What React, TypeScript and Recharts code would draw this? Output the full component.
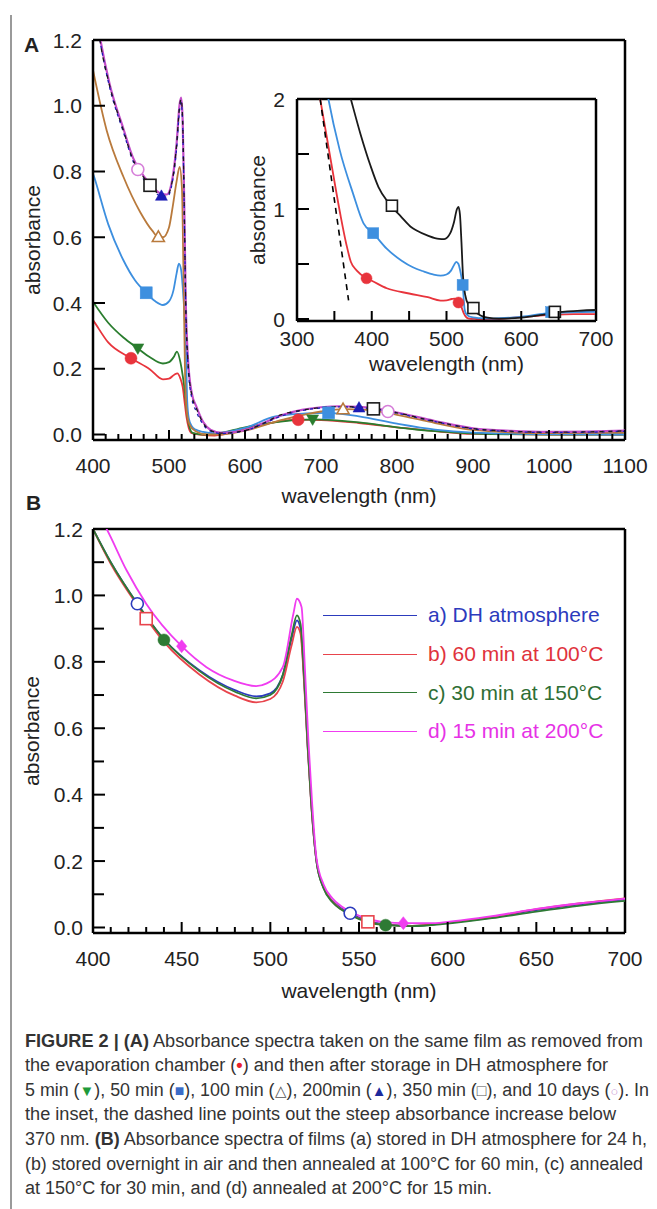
import React from 'react';
import { ComposedChart, Line, Scatter, XAxis, YAxis, ReferenceLine, Legend } from 'recharts';

const FONT = '"Liberation Sans", Arial, Helvetica, sans-serif';
const INK = '#222';

// ---- panel A (also feeds the inset for the first, 50 min and 350 min spectra)
const removedNm = [327, 331, 345, 358, 366, 372, 380, 393, 400, 420, 450, 475, 492, 500, 507, 511, 515, 518, 521, 523, 526, 530, 540, 560, 600, 640, 670, 700, 750, 800, 850, 900, 1000, 1100];
const removedAbs = [2.15, 2.0, 1.45, 0.95, 0.68, 0.52, 0.44, 0.37, 0.348, 0.28, 0.232, 0.198, 0.168, 0.17, 0.182, 0.186, 0.17, 0.145, 0.09, 0.054, 0.02, 0.004, 0.0, -0.003, 0.018, 0.038, 0.045, 0.044, 0.035, 0.022, 0.01, 0.002, 0, 0];

const min5Nm = [400, 420, 440, 459, 475, 492, 500, 506, 510.5, 515, 518, 520.6, 523, 525, 531, 545, 560, 600, 650, 690, 750, 800, 850, 900, 1000, 1100];
const min5Abs = [0.404, 0.34, 0.295, 0.262, 0.235, 0.216, 0.22, 0.235, 0.252, 0.22, 0.18, 0.135, 0.08, 0.044, 0.005, 0.0, 0.002, 0.022, 0.04, 0.046, 0.037, 0.022, 0.01, 0.003, 0, 0];

const min50Nm = [338, 342, 357, 375, 389, 402, 420, 440, 455, 470, 482, 492, 500, 506, 510, 513, 516, 518, 520, 522, 524, 526, 530, 535, 545, 560, 600, 640, 680, 710, 750, 800, 850, 900, 1000, 1100];
const min50Abs = [2.15, 2.0, 1.54, 1.14, 0.87, 0.78, 0.64, 0.53, 0.47, 0.431, 0.405, 0.394, 0.405, 0.44, 0.49, 0.52, 0.5, 0.45, 0.38, 0.28, 0.1, 0.05, 0.025, 0.015, 0.008, 0.004, 0.02, 0.055, 0.064, 0.066, 0.055, 0.033, 0.015, 0.006, 0.001, 0];

const min100Nm = [400, 418, 440, 462, 478, 486, 492, 500, 505, 510, 514, 517, 519, 521, 523, 527, 535, 550, 570, 600, 650, 700, 730, 760, 800, 850, 900, 1000, 1100];
const min100Abs = [1.108, 0.925, 0.784, 0.677, 0.62, 0.601, 0.6, 0.63, 0.695, 0.77, 0.814, 0.75, 0.5, 0.2, 0.08, 0.03, 0.01, 0.0, 0.0, 0.012, 0.045, 0.07, 0.077, 0.075, 0.06, 0.035, 0.014, 0.004, 0.006];

const min200Nm = [400, 409, 422, 440, 453, 460, 475, 490, 497, 505, 510, 514, 516, 518, 520, 522, 525, 530, 536, 545, 555, 570, 600, 625, 650, 675, 700, 725, 750, 775, 800, 850, 900, 950, 1000, 1050, 1100];
const min200Abs = [1.33, 1.2, 1.055, 0.92, 0.83, 0.8, 0.752, 0.724, 0.722, 0.775, 0.87, 0.99, 1.01, 0.94, 0.69, 0.39, 0.21, 0.11, 0.07, 0.03, 0.01, 0.003, 0.011, 0.034, 0.058, 0.073, 0.081, 0.084, 0.082, 0.076, 0.065, 0.039, 0.017, 0.009, 0.006, 0.007, 0.01];

const min350Nm = [368, 372, 385, 398, 409, 422, 440, 453, 460, 475, 490, 497, 505, 510, 514, 516, 518, 520, 522, 525, 530, 536, 545, 555, 570, 600, 625, 645, 675, 700, 725, 750, 775, 800, 850, 900, 950, 1000, 1050, 1100];
const min350Abs = [2.1, 2.0, 1.68, 1.4, 1.2, 1.06, 0.925, 0.834, 0.805, 0.758, 0.728, 0.726, 0.78, 0.88, 1.0, 1.02, 0.95, 0.7, 0.4, 0.22, 0.12, 0.08, 0.035, 0.012, 0.004, 0.012, 0.035, 0.058, 0.074, 0.082, 0.085, 0.083, 0.077, 0.066, 0.04, 0.018, 0.01, 0.007, 0.008, 0.011];

const days10Nm = min200Nm;
const days10Abs = [1.34, 1.21, 1.065, 0.93, 0.84, 0.81, 0.762, 0.732, 0.73, 0.785, 0.885, 1.005, 1.025, 0.955, 0.71, 0.41, 0.23, 0.125, 0.085, 0.038, 0.014, 0.005, 0.013, 0.036, 0.06, 0.075, 0.083, 0.086, 0.084, 0.078, 0.067, 0.041, 0.019, 0.011, 0.008, 0.009, 0.012];

// marker positions [nm, absorbance]
const removedMarks = [[450, 0.232], [670, 0.045]];
const min5Marks = [[459, 0.262], [689, 0.046]];
const min50Marks = [[470, 0.431], [710, 0.066]];
const min100Marks = [[486, 0.601], [729, 0.077]];
const min200Marks = [[490, 0.726], [750, 0.082]];
const min350Marks = [[475, 0.758], [769, 0.078]];
const days10Marks = [[459, 0.806], [788, 0.07]];

// inset markers + dashed guide
const insetRemovedMarks = [[393, 0.37], [516, 0.15]];
const insetMin50Marks = [[402, 0.78], [521.6, 0.31], [640, 0.062]];
const insetMin350Marks = [[427, 1.03], [536, 0.1], [645, 0.065]];
const guideNm = [331, 369];
const guideAbs = [2.0, 0.17];

// ---- panel B
const dhNm = [400, 410, 425, 440, 460, 480, 492, 500, 507, 512, 515, 517, 519, 521, 523, 526, 530, 535, 540, 545, 555, 565, 580, 600, 625, 650, 675, 700];
const dhAbs = [1.2, 1.1, 0.975, 0.868, 0.775, 0.715, 0.696, 0.705, 0.76, 0.87, 0.925, 0.9, 0.75, 0.55, 0.38, 0.2, 0.12, 0.08, 0.058, 0.043, 0.02, 0.009, 0.005, 0.014, 0.03, 0.052, 0.07, 0.085];
const c100Abs = [1.2, 1.095, 0.97, 0.86, 0.762, 0.698, 0.678, 0.688, 0.74, 0.85, 0.905, 0.885, 0.74, 0.545, 0.375, 0.2, 0.12, 0.078, 0.055, 0.04, 0.017, 0.008, 0.005, 0.014, 0.032, 0.055, 0.073, 0.088];
const c150Abs = [1.2, 1.1, 0.975, 0.868, 0.772, 0.71, 0.69, 0.7, 0.76, 0.88, 0.94, 0.915, 0.76, 0.555, 0.38, 0.2, 0.118, 0.076, 0.054, 0.038, 0.016, 0.007, 0.004, 0.012, 0.028, 0.048, 0.066, 0.08];
const c200Nm = [400, 407.7, 419, 430, 450, 464, 479, 492, 498, 507, 513, 515, 517.6, 519.5, 521.5, 523.5, 526, 530, 535, 540, 545, 555, 565, 575, 590, 600, 625, 650, 675, 700];
const c200Abs = [1.27, 1.2, 1.075, 0.975, 0.847, 0.784, 0.744, 0.727, 0.735, 0.784, 0.945, 0.99, 0.965, 0.78, 0.56, 0.38, 0.21, 0.13, 0.088, 0.064, 0.048, 0.026, 0.016, 0.013, 0.013, 0.017, 0.034, 0.056, 0.073, 0.087];

const dhMarks = [[425, 0.975], [545, 0.043]];
const c100Marks = [[430, 0.93], [555, 0.017]];
const c150Marks = [[440, 0.866], [565, 0.007]];
const c200Marks = [[450, 0.847], [575, 0.013]];

const legendNames = ['a) DH atmosphere', 'b) 60 min at 100°C', 'c) 30 min at 150°C', 'd) 15 min at 200°C'];

// ---- ticks
const aMajorX = [400, 500, 600, 700, 800, 900, 1000, 1100];
const aMajorY = [0, 0.2, 0.4, 0.6, 0.8, 1.0, 1.2];
const insetMajorX = [300, 400, 500, 600, 700];
const insetMajorY = [0, 1, 2];
const bMajorX = [400, 450, 500, 550, 600, 650, 700];
const bMajorY = [0, 0.2, 0.4, 0.6, 0.8, 1.0, 1.2];

const subdivide = (majors: number[], n: number) => {
  const out: number[] = [];
  for (let i = 0; i < majors.length - 1; i++) {
    for (let k = 0; k < n; k++) out.push(majors[i] + ((majors[i + 1] - majors[i]) * k) / n);
  }
  out.push(majors[majors.length - 1]);
  return out;
};

const pts = (xs: number[], ys: number[]) => xs.map((x, i) => ({ x, y: ys[i] }));
const markPts = (m: number[][]) => m.map(([x, y]) => ({ x, y }));
const isIn = (list: number[], v: number) => list.some((m) => Math.abs(m - v) < 1e-6);

// ticks point inward; with tickSize/tickMargin 0 the tick props sit on the axis line
const xTick = (majors: number[], majorLen: number, minorLen: number, dy: number, fmt: (v: number) => string) => (p: any) => {
  const v = p.payload.value;
  const major = isIn(majors, v);
  return (
    <g>
      <line x1={p.x} x2={p.x} y1={p.y} y2={p.y - (major ? majorLen : minorLen)} stroke="#000" strokeWidth={2} />
      {major && (
        <text x={p.x} y={p.y + dy} textAnchor="middle" dominantBaseline="central" fontSize={21} fill={INK}>
          {fmt(v)}
        </text>
      )}
    </g>
  );
};

const yTick = (majors: number[], majorLen: number, minorLen: number, dx: number, fmt: (v: number) => string) => (p: any) => {
  const v = p.payload.value;
  const major = isIn(majors, v);
  return (
    <g>
      <line x1={p.x} x2={p.x + (major ? majorLen : minorLen)} y1={p.y} y2={p.y} stroke="#000" strokeWidth={2} />
      {major && (
        <text x={p.x - dx} y={p.y} textAnchor="end" dominantBaseline="central" fontSize={21} fill={INK}>
          {fmt(v)}
        </text>
      )}
    </g>
  );
};

const xTitle = (dy: number) => (p: any) => {
  const vb = p.viewBox;
  return (
    <text x={vb.x + vb.width / 2} y={vb.y + dy} textAnchor="middle" dominantBaseline="central" fontSize={21} fill={INK}>
      wavelength (nm)
    </text>
  );
};

// viewBox of a left axis: its right edge is the axis line
const yTitle = (dx: number) => (p: any) => {
  const vb = p.viewBox;
  const cx = vb.x + vb.width - dx;
  const cy = vb.y + vb.height / 2;
  return (
    <text x={cx} y={cy} transform={`rotate(-90 ${cx} ${cy})`} textAnchor="middle" dominantBaseline="central" fontSize={21} fill={INK}>
      absorbance
    </text>
  );
};

type Kind = 'circle' | 'square' | 'up' | 'down' | 'diamond';
const marker = (kind: Kind, color: string, hollow: boolean, size = 12) => (p: any) => {
  const { cx, cy } = p;
  if (cx == null || cy == null) return <g />;
  const h = size / 2;
  const fill = hollow ? '#fff' : color;
  const stroke = color;
  const sw = hollow ? 1.6 : 0.5;
  if (kind === 'circle') return <circle cx={cx} cy={cy} r={h} fill={fill} stroke={stroke} strokeWidth={sw} />;
  if (kind === 'square') return <rect x={cx - h} y={cy - h} width={size} height={size} fill={fill} stroke={stroke} strokeWidth={sw} />;
  if (kind === 'diamond')
    return <polygon points={`${cx},${cy - h} ${cx + h * 0.8},${cy} ${cx},${cy + h} ${cx - h * 0.8},${cy}`} fill={fill} stroke={stroke} strokeWidth={sw} />;
  if (kind === 'up')
    return <polygon points={`${cx},${cy - h} ${cx + h},${cy + h * 0.75} ${cx - h},${cy + h * 0.75}`} fill={fill} stroke={stroke} strokeWidth={sw} />;
  return <polygon points={`${cx},${cy + h} ${cx + h},${cy - h * 0.75} ${cx - h},${cy - h * 0.75}`} fill={fill} stroke={stroke} strokeWidth={sw} />;
};

const AXIS = { stroke: '#000', strokeWidth: 2.5 };

const C = {
  removed: '#e8343c',
  min5: '#2a7d2e',
  min50: '#3d8fdf',
  min100: '#b97a3c',
  min200: '#1c1cb5',
  min350: '#1a1a1a',
  days10: '#c24cc8',
  days10Mark: '#d67fd9',
  dh: '#2c3bbd',
  c100: '#e8444c',
  c150: '#2e7a34',
  c200: '#f03cf0',
};

const legendText = ['#2c3bbd', '#e0323c', '#2e6e34', '#e632e6'];

const BLegend = (props: any) => {
  const items = (props.payload || []).filter((e: any) => e.type === 'line');
  return (
    <div style={{ fontFamily: FONT }}>
      {items.map((e: any, i: number) => (
        <div key={i} style={{ display: 'flex', alignItems: 'center', height: 38.7 }}>
          <div style={{ width: 94, borderTop: `1.6px solid ${e.color}`, marginRight: 11 }} />
          <span style={{ fontSize: 21, color: legendText[i], whiteSpace: 'nowrap' }}>{e.value}</span>
        </div>
      ))}
    </div>
  );
};

const line = (key: string, d: { x: number; y: number }[], color: string, w = 1.8, dash?: string, name?: string) => (
  <Line
    key={key}
    name={name || key}
    data={d}
    dataKey="y"
    type="monotone"
    stroke={color}
    strokeWidth={w}
    strokeDasharray={dash}
    dot={false}
    activeDot={false}
    isAnimationActive={false}
  />
);

const marks = (key: string, m: number[][], shape: any) => (
  <Scatter key={key} data={markPts(m)} dataKey="y" shape={shape} legendType="none" isAnimationActive={false} />
);

const AX_W = 70; // reserved width of left axes
const AX_H = 60; // reserved height of bottom axes

export default function App() {
  return (
    <div style={{ position: 'absolute', left: 0, top: 0, width: 657, height: 1209, background: '#fff', fontFamily: FONT, overflow: 'hidden' }}>
      <div style={{ position: 'absolute', left: 10, top: 15, width: 1.5, height: 1194, background: '#9a9a9a' }} />
      <div style={{ position: 'absolute', left: 24, top: 33, fontSize: 21, fontWeight: 'bold', color: INK, lineHeight: '24px' }}>A</div>
      <div style={{ position: 'absolute', left: 26, top: 491, fontSize: 21, fontWeight: 'bold', color: INK, lineHeight: '24px' }}>B</div>

      {/* panel A */}
      <div style={{ position: 'absolute', left: 0, top: 0 }}>
        <ComposedChart width={657} height={520} margin={{ top: 40, right: 32, bottom: 80 - AX_H, left: 93 - AX_W }}>
          <XAxis
            type="number"
            dataKey="x"
            domain={[400, 1100]}
            allowDataOverflow
            ticks={subdivide(aMajorX, 6)}
            interval={0}
            height={AX_H}
            tickSize={0}
            tickMargin={0}
            tickLine={false}
            axisLine={AXIS}
            tick={xTick(aMajorX, 10, 6, 25, (v) => String(v))}
            label={xTitle(55)}
          />
          <YAxis
            type="number"
            dataKey="y"
            domain={[-0.0167, 1.2]}
            allowDataOverflow
            ticks={aMajorY}
            interval={0}
            width={AX_W}
            tickSize={0}
            tickMargin={0}
            tickLine={false}
            axisLine={AXIS}
            tick={yTick(aMajorY, 12, 12, 11, (v) => v.toFixed(1))}
            label={yTitle(61)}
          />
          <ReferenceLine y={1.2} stroke="#000" strokeWidth={2.5} />
          <ReferenceLine x={1100} stroke="#000" strokeWidth={2.5} />
          {line('removed', pts(removedNm, removedAbs), C.removed)}
          {line('5 min', pts(min5Nm, min5Abs), C.min5)}
          {line('50 min', pts(min50Nm, min50Abs), C.min50)}
          {line('100 min', pts(min100Nm, min100Abs), C.min100)}
          {line('10 days', pts(days10Nm, days10Abs), C.days10, 2.2)}
          {line('200 min', pts(min200Nm, min200Abs), C.min200, 1.3, '3 4')}
          {line('350 min', pts(min350Nm, min350Abs), C.min350, 1.3, '4 5')}
          {marks('m-removed', removedMarks, marker('circle', C.removed, false))}
          {marks('m-5', min5Marks, marker('down', C.min5, false))}
          {marks('m-50', min50Marks, marker('square', C.min50, false))}
          {marks('m-100', min100Marks, marker('up', C.min100, true))}
          {marks('m-350', min350Marks, marker('square', C.min350, true))}
          {marks('m-200', min200Marks, marker('up', C.min200, false))}
          {marks('m-10d', days10Marks, marker('circle', C.days10Mark, true))}
        </ComposedChart>
      </div>

      {/* inset */}
      <div style={{ position: 'absolute', left: 0, top: 0 }}>
        <ComposedChart width={657} height={520} margin={{ top: 99, right: 61, bottom: 199 - AX_H, left: 297 - AX_W }}>
          <XAxis
            type="number"
            dataKey="x"
            domain={[300, 700]}
            allowDataOverflow
            ticks={subdivide(insetMajorX, 2)}
            interval={0}
            height={AX_H}
            tickSize={0}
            tickMargin={0}
            tickLine={false}
            axisLine={AXIS}
            tick={xTick(insetMajorX, 10, 10, 17, (v) => String(v))}
            label={xTitle(42)}
          />
          <YAxis
            type="number"
            dataKey="y"
            domain={[-0.018, 2]}
            allowDataOverflow
            ticks={subdivide(insetMajorY, 2)}
            interval={0}
            width={AX_W}
            tickSize={0}
            tickMargin={0}
            tickLine={false}
            axisLine={AXIS}
            tick={yTick(insetMajorY, 12, 12, 12, (v) => String(v))}
            label={yTitle(40)}
          />
          <ReferenceLine y={2} stroke="#000" strokeWidth={2.5} />
          <ReferenceLine x={700} stroke="#000" strokeWidth={2.5} />
          {line('removed', pts(removedNm, removedAbs), C.removed)}
          {line('50 min', pts(min50Nm, min50Abs), C.min50)}
          {line('350 min', pts(min350Nm, min350Abs), C.min350)}
          {line('guide', pts(guideNm, guideAbs), '#000', 1.6, '6 5')}
          {marks('i-removed', insetRemovedMarks, marker('circle', C.removed, false, 11))}
          {marks('i-50', insetMin50Marks, marker('square', C.min50, false, 11))}
          {marks('i-350', insetMin350Marks, marker('square', C.min350, true, 11))}
        </ComposedChart>
      </div>

      {/* panel B */}
      <div style={{ position: 'absolute', left: 0, top: 480 }}>
        <ComposedChart width={657} height={540} margin={{ top: 49, right: 32, bottom: 87 - AX_H, left: 93 - AX_W }}>
          <XAxis
            type="number"
            dataKey="x"
            domain={[400, 700]}
            allowDataOverflow
            ticks={subdivide(bMajorX, 5)}
            interval={0}
            height={AX_H}
            tickSize={0}
            tickMargin={0}
            tickLine={false}
            axisLine={AXIS}
            tick={xTick(bMajorX, 11, 6, 25, (v) => String(v))}
            label={xTitle(57)}
          />
          <YAxis
            type="number"
            dataKey="y"
            domain={[-0.0166, 1.2]}
            allowDataOverflow
            ticks={subdivide(bMajorY, 2)}
            interval={0}
            width={AX_W}
            tickSize={0}
            tickMargin={0}
            tickLine={false}
            axisLine={AXIS}
            tick={yTick(bMajorY, 12, 11, 10, (v) => v.toFixed(1))}
            label={yTitle(62)}
          />
          <ReferenceLine y={1.2} stroke="#000" strokeWidth={2.5} />
          <ReferenceLine x={700} stroke="#000" strokeWidth={2.5} />
          {line('dh', pts(dhNm, dhAbs), C.dh, 1.8, undefined, legendNames[0])}
          {line('c100', pts(dhNm, c100Abs), C.c100, 1.8, undefined, legendNames[1])}
          {line('c150', pts(dhNm, c150Abs), C.c150, 1.8, undefined, legendNames[2])}
          {line('c200', pts(c200Nm, c200Abs), C.c200, 1.8, undefined, legendNames[3])}
          {marks('b-dh', dhMarks, marker('circle', C.dh, true, 12))}
          {marks('b-100', c100Marks, marker('square', C.c100, true, 12))}
          {marks('b-150', c150Marks, marker('circle', C.c150, false, 12))}
          {marks('b-200', c200Marks, marker('diamond', C.c200, false, 13))}
          <Legend
            layout="horizontal"
            verticalAlign="middle"
            align="center"
            wrapperStyle={{ left: 323, top: 116, width: 320 }}
            content={(p: any) => <BLegend {...p} />}
          />
        </ComposedChart>
      </div>

      {/* caption */}
      <svg style={{ position: 'absolute', left: 0, top: 1000 }} width={657} height={209}>
        <g fontFamily={'"Liberation Sans Narrow", "Liberation Sans", Arial, sans-serif'} fontSize={18} fill="#333">
          <text x={25} y={46.5} textLength={618} lengthAdjust="spacingAndGlyphs">
            <tspan fontWeight="bold">FIGURE 2 | (A)</tspan> Absorbance spectra taken on the same film as removed from
          </text>
          <text x={25} y={71.1} textLength={583} lengthAdjust="spacingAndGlyphs">
            the evaporation chamber (<tspan fill="#e8232b" fontWeight="bold">•</tspan>) and then after storage in DH atmosphere for
          </text>
          <text x={25} y={95.7} textLength={624} lengthAdjust="spacingAndGlyphs">
            5 min (<tspan fill="#1f9a3a" fontSize={15}>▼</tspan>), 50 min (<tspan fill="#3b6cc8" fontSize={16}>■</tspan>), 100 min (<tspan fill="#555" fontSize={15}>△</tspan>), 200min (<tspan fill="#1c2a9c" fontSize={15}>▲</tspan>), 350 min (<tspan fill="#555" fontSize={16}>□</tspan>), and 10 days (<tspan fill="#c58fd0" fontSize={13}>○</tspan>). In
          </text>
          <text x={25} y={120.3} textLength={591} lengthAdjust="spacingAndGlyphs">
            the inset, the dashed line points out the steep absorbance increase below
          </text>
          <text x={25} y={144.9} textLength={622} lengthAdjust="spacingAndGlyphs">
            370 nm. <tspan fontWeight="bold">(B)</tspan> Absorbance spectra of films (a) stored in DH atmosphere for 24 h,
          </text>
          <text x={25} y={169.5} textLength={618} lengthAdjust="spacingAndGlyphs">
            (b) stored overnight in air and then annealed at 100°C for 60 min, (c) annealed
          </text>
          <text x={25} y={194.1} textLength={467} lengthAdjust="spacingAndGlyphs">
            at 150°C for 30 min, and (d) annealed at 200°C for 15 min.
          </text>
        </g>
      </svg>
    </div>
  );
}
